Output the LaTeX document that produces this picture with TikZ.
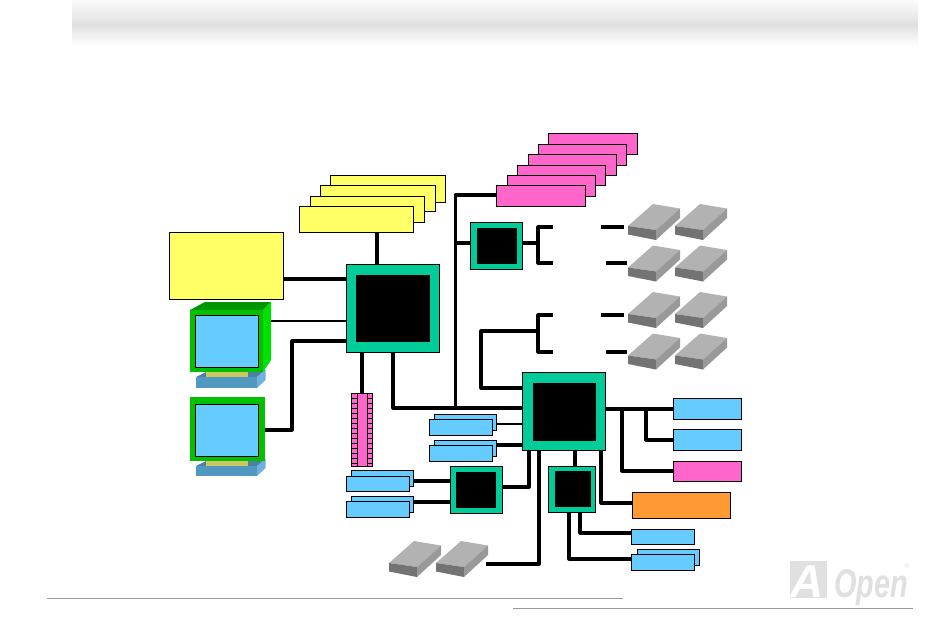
\documentclass[tikz,border=0pt]{standalone}
\usepackage{fontspec}
\setmainfont{Liberation Sans}
\usetikzlibrary{calc}
\definecolor{cyellow}{HTML}{FFFF66}
\definecolor{cpink}{HTML}{FF66CC}
\definecolor{cblue}{HTML}{66CCFF}
\definecolor{cteal}{HTML}{00CC99}
\definecolor{corange}{HTML}{FF9933}
\tikzset{
  every node/.style={inner sep=0pt,outer sep=0pt},
  bx/.style={draw=black,line width=0.9pt},
  yellowbox/.style={bx,fill=cyellow},
  pinkbox/.style={bx,fill=cpink},
  bluebox/.style={bx,fill=cblue},
  orangebox/.style={bx,fill=corange},
  tealbox/.style={bx,fill=cteal},
  corebox/.style={fill=black},
  wire/.style={draw=black,line width=3.2pt,line join=round},
  thinwire/.style={draw=black,line width=2.8pt,line join=round},
}
% \rb{name}{style}{x1}{y1}{x2}{y2}
\newcommand{\rb}[6]{%
  \pgfmathsetmacro{\rbw}{#5-#3}\pgfmathsetmacro{\rbh}{#6-#4}%
  \pgfmathsetmacro{\rbx}{(#3+#5)/2}\pgfmathsetmacro{\rby}{(#4+#6)/2}%
  \node[#2,minimum width=\rbw pt,minimum height=\rbh pt] (#1) at (\rbx,\rby) {};}
% \hdd{x0}{peak y}
\newcommand{\hdd}[2]{%
  \begin{scope}[shift={(#1,#2)}]
    \fill[black!30] (0,22) -- (25,0) -- (52,4.5) -- (28,26) -- cycle;
    \fill[black!55] (0,22) -- (28,26) -- (28,36) -- (0,30.5) -- cycle;
    \fill[black!40] (28,26) -- (52,4.5) -- (52,14) -- (28,36) -- cycle;
  \end{scope}}
\begin{document}
\begin{tikzpicture}[x=1pt,y=-1pt]
\useasboundingbox (0,0) rectangle (950,641);
\fill[white] (0,0) rectangle (950,641);
% header band
\shade[top color=black!2,bottom color=black!12] (72,0) rectangle (918,25);
\shade[top color=black!12,bottom color=white] (72,25) rectangle (918,46);
% footer lines
\draw[black!40,line width=0.7pt] (47,598) -- (623,598);
\draw[black!40,line width=0.7pt] (513,608) -- (913,608);
% logo
\fill[black!12] (790,561) rectangle (827,598);
\node[anchor=base west,text=white,font=\bfseries\itshape\fontsize{46}{46}\selectfont] (logoA) at (790,597) {A};
\node[anchor=base west,text=black!12,xscale=0.72,transform shape,font=\bfseries\itshape\fontsize{40}{40}\selectfont] (logoB) at (834,597) {Open};
\node[text=black!12,font=\fontsize{7}{7}\selectfont] (logoC) at (907,566) {®};

% monitors
\fill[color={rgb,255:red,76;green,128;blue,160}] (196,377) -- (206,372) -- (248,372) -- (265.5,370) -- (257,377) -- cycle;
\fill[color={rgb,255:red,112;green,176;blue,222}] (257,377) -- (265.5,370) -- (265.5,380) -- (257,388) -- cycle;
\fill[color={rgb,255:red,80;green,152;blue,192}] (196,377) rectangle (257,388);
\fill[color={rgb,255:red,76;green,128;blue,160}] (196,466) -- (206,461) -- (248,461) -- (265.5,459) -- (257,466) -- cycle;
\fill[color={rgb,255:red,112;green,176;blue,222}] (257,466) -- (265.5,458.5) -- (265.5,468) -- (257,476) -- cycle;
\fill[color={rgb,255:red,80;green,152;blue,192}] (196,466) rectangle (257,476);
\fill[yellow!70!black!75!white] (206,372) rectangle (248,377);
\fill[yellow!70!black!75!white] (206,461) rectangle (248,466);
% monitor 1 casing
\fill[color={rgb,255:red,0;green,150;blue,0}] (190,310) -- (205,302) -- (271,302) -- (263,310) -- cycle;
\fill[color={rgb,255:red,0;green,224;blue,0}] (263,310) -- (271,302) -- (271,360) -- (263,372) -- cycle;
\fill[color={rgb,255:red,0;green,192;blue,0}] (190,310) rectangle (263,372);
\rb{scr1}{bluebox}{195}{315}{258}{367}
% monitor 2 casing
\fill[color={rgb,255:red,0;green,192;blue,0}] (190,397) rectangle (265,461);
\rb{scr2}{bluebox}{195}{404}{258}{456}
\coordinate (mon1) at (271,321);
\coordinate (mon2) at (265,430);

% yellow stack
\rb{y1}{yellowbox}{330}{175}{445}{202}
\rb{y2}{yellowbox}{320}{185}{435}{211}
\rb{y3}{yellowbox}{310}{196}{424}{222}
\rb{y4}{yellowbox}{299}{206}{413}{232}
\rb{ybig}{yellowbox}{169}{232}{283}{299}

% pink stack
\rb{p1}{pinkbox}{548}{133}{637}{154}
\rb{p2}{pinkbox}{538}{144}{626}{165}
\rb{p3}{pinkbox}{528}{154}{616}{175}
\rb{p4}{pinkbox}{517}{165}{605}{185}
\rb{p5}{pinkbox}{507}{175}{595}{196}
\rb{p6}{pinkbox}{496}{185}{585}{206}

% chips
\rb{nb}{tealbox}{346}{264.5}{439}{352}
\rb{nbc}{corebox}{356}{275}{430}{342}
\rb{agp}{tealbox}{470}{222.5}{522}{269}
\rb{agpc}{corebox}{477}{228}{517}{264}
\rb{sb}{tealbox}{522}{372.5}{605}{450}
\rb{sbc}{corebox}{533}{383}{596}{441}
\rb{ch3}{tealbox}{450}{466.5}{502}{513}
\rb{ch3c}{corebox}{456}{472}{496}{508}
\rb{ch4}{tealbox}{548.5}{466.5}{595}{512}
\rb{ch4c}{corebox}{555}{471}{591}{507}

% pink slot
\rb{slot}{pinkbox}{351}{393}{372}{466}
\draw[black,line width=0.8pt] (357,393) -- (357,466) (367,393) -- (367,466);
\foreach \t in {398,403,...,463} \draw[black,line width=0.8pt] (351,\t) -- (357,\t) (367,\t) -- (372,\t);

% blue boxes
\rb{b1b}{bluebox}{434}{414}{496}{430}
\rb{b1}{bluebox}{429}{419}{492}{435}
\rb{b2b}{bluebox}{434}{440}{496}{456}
\rb{b2}{bluebox}{429}{445}{492}{461}
\rb{b3b}{bluebox}{351}{470}{413}{486}
\rb{b3}{bluebox}{346}{476}{409}{491}
\rb{b4b}{bluebox}{351}{496}{413}{512}
\rb{b4}{bluebox}{346}{501}{409}{517}
\rb{r1}{bluebox}{673}{398}{741}{419}
\rb{r2}{bluebox}{673}{429}{741}{450}
\rb{r3}{pinkbox}{673}{461}{741}{481}
\rb{org}{orangebox}{632}{492}{730}{518}
\rb{b5}{bluebox}{631}{529}{694}{544}
\rb{b6b}{bluebox}{637}{549}{699}{565}
\rb{b6}{bluebox}{631}{554}{694}{570}

% drives
\hdd{628}{204}\hdd{675}{204}
\hdd{628}{245.5}\hdd{675}{245.5}
\hdd{628}{292}\hdd{675}{292}
\hdd{628}{333.5}\hdd{675}{333.5}
\hdd{389}{541}\hdd{436}{541}

% free ends
\coordinate (j1) at (455.5,243);
\coordinate (d1a) at (601,227); \coordinate (d1b) at (624,227);
\coordinate (d2a) at (606,263); \coordinate (d2b) at (627,263);
\coordinate (d3a) at (601,315); \coordinate (d3b) at (624,315);
\coordinate (d4a) at (606,352); \coordinate (d4b) at (627,352);
\coordinate (free) at (486,564);

% wires
\draw[wire] (y4.south -| 377,0) -- (nb.north -| 377,0);
\draw[wire] (ybig.east |- 0,279) -- (nb.west |- 0,279);
\draw[thinwire] (mon1) -- (nb.west |- mon1);
\draw[wire] (mon2) -- (292,430) -- (292,341) -- (nb.west |- 0,341);
\draw[wire] (nb.south -| 362,0) -- (slot.north -| 362,0);
\draw[wire] (nb.south -| 393,0) -- (393,408) -- (sb.west |- 0,408);
\draw[wire] (455.5,408) -- (455.5,195) -- (p6.west |- 0,195);
\draw[wire] (j1) -- (agp.west |- j1);
\draw[wire] (agp.east |- j1) -- (538,243);
\draw[wire] (553,227) -- (538,227) -- (538,263) -- (553,263);
\draw[wire] (d1a) -- (d1b);
\draw[wire] (d2a) -- (d2b);
\draw[wire] (553,315) -- (538,315) -- (538,352) -- (553,352);
\draw[wire] (d3a) -- (d3b);
\draw[wire] (d4a) -- (d4b);
\draw[wire] (538,331) -- (481,331) -- (481,388) -- (sb.west |- 0,388);
\draw[thinwire] (b1b.east |- 0,424) -- (sb.west |- 0,424);
\draw[wire] (b2b.east |- 0,445) -- (sb.west |- 0,445);
\draw[wire] (b3b.east |- 0,481) -- (ch3.west |- 0,481);
\draw[wire] (b4b.east |- 0,502) -- (ch3.west |- 0,502);
\draw[wire] (ch3.east |- 0,487) -- (529,487) -- (sb.south -| 529,0);
\draw[wire] (free) -- (539,564) -- (sb.south -| 539,0);
\draw[wire] (sb.south -| 575,0) -- (ch4.north -| 575,0);
\draw[wire] (sb.south -| 601,0) -- (601,503) -- (org.west |- 0,503);
\draw[wire] (ch4.south -| 580,0) -- (580,533) -- (b5.west |- 0,533);
\draw[wire] (ch4.south -| 569,0) -- (569,559) -- (b6.west |- 0,559);
\draw[wire] (sb.east |- 0,409) -- (r1.west |- 0,409);
\draw[wire] (646,409) -- (646,440) -- (r2.west |- 0,440);
\draw[wire] (622,409) -- (622,471) -- (r3.west |- 0,471);
\end{tikzpicture}
\end{document}
